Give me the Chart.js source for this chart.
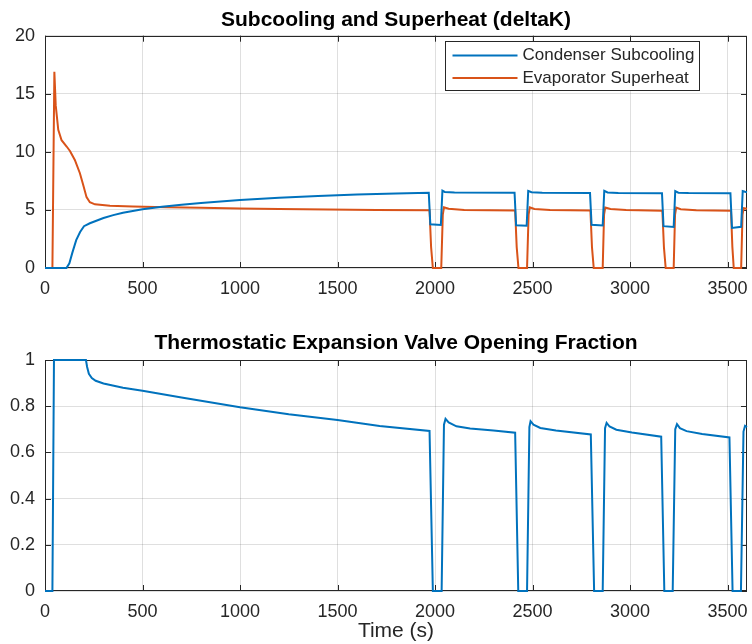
<!DOCTYPE html>
<html>
<head>
<meta charset="utf-8">
<script src="https://cdn.jsdelivr.net/npm/chart.js@4.4.0/dist/chart.umd.min.js"></script>
<style>
    body { margin: 0; background: #fff; }
    #wrap { position: relative; width: 752px; height: 644px; }
    canvas { position: absolute; left: 0; }
</style>
</head>
<body>
<div id="wrap">
    <canvas id="chartTop" width="752" height="305" style="top:0"></canvas>
    <canvas id="chartBottom" width="752" height="339" style="top:305px"></canvas>
</div>
<script>
// Ejes
const xTicks = [0, 500, 1000, 1500, 2000, 2500, 3000, 3500];
const topYTicks = [0, 5, 10, 15, 20];
const bottomYTicks = [0, 0.2, 0.4, 0.6, 0.8, 1];

// Condenser Subcooling (deltaK)
const timeSubcool = [0, 110, 125, 140, 160, 180, 200, 230, 260, 300, 350, 400, 500, 600, 700, 800, 1000, 1200, 1400, 1600, 1800, 1968,
    1976, 2030, 2038, 2050, 2100, 2408,
    2416, 2470, 2478, 2495, 2550, 2795,
    2803, 2860, 2868, 2885, 2940, 3164,
    3172, 3224, 3232, 3248, 3300, 3515,
    3523, 3570, 3578, 3590, 3600];
const subcooling = [0, 0, 0.4, 1.3, 2.4, 3.1, 3.6, 3.85, 4.05, 4.3, 4.55, 4.75, 5.05, 5.28, 5.45, 5.6, 5.85, 6.05, 6.2, 6.32, 6.42, 6.48,
    3.76, 3.7, 6.66, 6.55, 6.5, 6.48,
    3.68, 3.64, 6.64, 6.52, 6.47, 6.45,
    3.72, 3.66, 6.64, 6.5, 6.46, 6.44,
    3.6, 3.54, 6.62, 6.48, 6.45, 6.43,
    3.45, 3.55, 6.62, 6.56, 6.52];

// Evaporator Superheat (deltaK)
const timeSuperheat = [0, 38, 48, 55, 68, 85, 111, 128, 153, 179, 196, 213, 230, 256, 333, 450, 623, 800, 1000, 1200, 1450, 1700, 1972,
    1980, 1989, 2032, 2040, 2046, 2070, 2150, 2411,
    2419, 2428, 2472, 2480, 2486, 2510, 2590, 2797,
    2805, 2814, 2860, 2867, 2873, 2900, 2980, 3166,
    3174, 3183, 3224, 3231, 3237, 3260, 3340, 3518,
    3525, 3532, 3570, 3577, 3583, 3600];
const superheat = [0, 0, 16.9, 14.0, 11.9, 11.0, 10.46, 10.08, 9.3, 8.16, 7.15, 6.1, 5.66, 5.48, 5.36, 5.3, 5.23, 5.18, 5.13, 5.08, 5.04, 5.0, 4.97,
    1.8, 0, 0, 4.6, 5.22, 5.1, 5.0, 4.95,
    1.8, 0, 0, 4.6, 5.22, 5.08, 5.0, 4.95,
    1.8, 0, 0, 4.6, 5.2, 5.08, 5.0, 4.93,
    1.8, 0, 0, 4.6, 5.2, 5.06, 4.98, 4.92,
    1.8, 0, 0, 4.6, 5.15, 5.1];

// Thermostatic Expansion Valve Opening Fraction
const timeValve = [0, 38, 46, 210, 216, 225, 240, 260, 300, 400, 500, 700, 1000, 1250, 1500, 1716, 1972,
    1989, 2034, 2046, 2054, 2070, 2110, 2180, 2300, 2411,
    2427, 2472, 2484, 2490, 2505, 2540, 2620, 2799,
    2816, 2860, 2872, 2880, 2895, 2930, 3010, 3160,
    3176, 3219, 3232, 3241, 3256, 3290, 3370, 3510,
    3526, 3569, 3582, 3590, 3600];
const valveOpening = [0, 0, 1, 1, 0.97, 0.94, 0.922, 0.91, 0.898, 0.88, 0.867, 0.838, 0.795, 0.765, 0.74, 0.714, 0.693,
    0, 0, 0.72, 0.745, 0.73, 0.713, 0.703, 0.695, 0.685,
    0, 0, 0.71, 0.735, 0.72, 0.706, 0.695, 0.678,
    0, 0, 0.705, 0.728, 0.712, 0.698, 0.686, 0.668,
    0, 0, 0.7, 0.722, 0.705, 0.692, 0.68, 0.665,
    0, 0, 0.69, 0.715, 0.71];

const BLUE = '#0072BD';
const ORANGE = '#D95319';
const AXIS = '#262626';
const FONT = "'Liberation Sans', Arial, Helvetica, sans-serif";

function toPoints(ts, vs) {
    return ts.map((t, i) => ({ x: t, y: vs[i] }));
}

// Caja de ejes con marcas hacia adentro (estilo MATLAB)
const framePlugin = {
    id: 'frame',
    beforeDatasetsDraw(chart) {
        const { ctx, chartArea: a, scales: { x, y } } = chart;
        ctx.save();
        ctx.strokeStyle = AXIS;
        ctx.lineWidth = 1;
        ctx.beginPath();
        x.ticks.forEach(t => {
            const px = Math.round(x.getPixelForValue(t.value)) + 0.5;
            ctx.moveTo(px, a.bottom); ctx.lineTo(px, a.bottom - 6);
            ctx.moveTo(px, a.top); ctx.lineTo(px, a.top + 6);
        });
        y.ticks.forEach(t => {
            const py = Math.round(y.getPixelForValue(t.value)) + 0.5;
            ctx.moveTo(a.left, py); ctx.lineTo(a.left + 6, py);
            ctx.moveTo(a.right, py); ctx.lineTo(a.right - 6, py);
        });
        ctx.stroke();
        ctx.strokeRect(Math.round(a.left) + 0.5, Math.round(a.top) + 0.5, Math.round(a.width) - 1, Math.round(a.height) - 1);
        ctx.restore();
    }
};

// Leyenda dentro del área del gráfico
const legendBoxPlugin = {
    id: 'legendBox',
    afterDatasetsDraw(chart, args, opts) {
        if (!opts.show) return;
        const { ctx, chartArea: a } = chart;
        const w = 254, h = 49;
        const left = Math.round(a.right - 48 - w) + 0.5;
        const top = Math.round(a.top + 5) + 0.5;
        ctx.save();
        ctx.fillStyle = '#fff';
        ctx.fillRect(left, top, w, h);
        ctx.strokeStyle = AXIS;
        ctx.lineWidth = 1;
        ctx.strokeRect(left, top, w, h);
        ctx.font = '17px ' + FONT;
        ctx.textBaseline = 'middle';
        chart.data.datasets.forEach((ds, i) => {
            const cy = top + 14 + i * 22.5;
            ctx.strokeStyle = ds.borderColor;
            ctx.lineWidth = 2;
            ctx.beginPath();
            ctx.moveTo(left + 7, cy);
            ctx.lineTo(left + 72, cy);
            ctx.stroke();
            ctx.fillStyle = AXIS;
            ctx.fillText(ds.label, left + 77, cy);
        });
        ctx.restore();
    }
};

function buildOptions(cfg) {
    return {
        responsive: false,
        animation: false,
        layout: { padding: { left: 0, right: 5, top: 0, bottom: 0 } },
        plugins: {
            legend: { display: false },
            tooltip: { enabled: false },
            legendBox: { show: cfg.showLegend },
            title: {
                display: true,
                text: cfg.title,
                fullSize: false,
                color: '#000',
                font: { family: FONT, size: 21, weight: 'bold', lineHeight: 1.2 },
                padding: cfg.titlePadding
            }
        },
        scales: {
            x: {
                type: 'linear',
                min: 0,
                max: 3600,
                afterBuildTicks: s => { s.ticks = xTicks.map(v => ({ value: v })); },
                afterFit: s => { s.height = cfg.xHeight; s.paddingLeft = 0; s.paddingRight = 0; },
                ticks: { color: AXIS, padding: 10, maxRotation: 0, font: { family: FONT, size: 18 }, callback: v => String(v) },
                grid: { color: 'rgba(38,38,38,0.15)', drawTicks: false },
                border: { display: false },
                title: {
                    display: cfg.xTitle,
                    text: 'Time (s)',
                    color: AXIS,
                    padding: { top: 0, bottom: 0 },
                    font: { family: FONT, size: 21, lineHeight: 1.2 }
                }
            },
            y: {
                min: cfg.yMin,
                max: cfg.yMax,
                afterBuildTicks: s => { s.ticks = cfg.yTicks.map(v => ({ value: v })); },
                afterFit: s => { s.width = 45; s.paddingTop = 0; s.paddingBottom = 0; },
                ticks: { color: AXIS, padding: 10, font: { family: FONT, size: 18 }, callback: v => String(v) },
                grid: { color: 'rgba(38,38,38,0.15)', drawTicks: false },
                border: { display: false }
            }
        }
    };
}

function lineDataset(label, ts, vs, color) {
    return {
        label: label,
        data: toPoints(ts, vs),
        borderColor: color,
        backgroundColor: color,
        borderWidth: 2,
        pointRadius: 0,
        tension: 0,
        clip: 4
    };
}

new Chart(document.getElementById('chartTop'), {
    type: 'line',
    data: {
        datasets: [
            lineDataset('Condenser Subcooling', timeSubcool, subcooling, BLUE),
            lineDataset('Evaporator Superheat', timeSuperheat, superheat, ORANGE)
        ]
    },
    options: buildOptions({
        title: 'Subcooling and Superheat (deltaK)',
        titlePadding: { top: 8, bottom: 2.5 },
        xHeight: 37,
        xTitle: false,
        yMin: 0, yMax: 20, yTicks: topYTicks,
        showLegend: true
    }),
    plugins: [framePlugin, legendBoxPlugin]
});

new Chart(document.getElementById('chartBottom'), {
    type: 'line',
    data: {
        datasets: [
            lineDataset('Valve Opening Fraction', timeValve, valveOpening, BLUE)
        ]
    },
    options: buildOptions({
        title: 'Thermostatic Expansion Valve Opening Fraction',
        titlePadding: { top: 26, bottom: 3.8 },
        xHeight: 53,
        xTitle: true,
        yMin: 0, yMax: 1, yTicks: bottomYTicks,
        showLegend: false
    }),
    plugins: [framePlugin, legendBoxPlugin]
});
</script>
</body>
</html>
